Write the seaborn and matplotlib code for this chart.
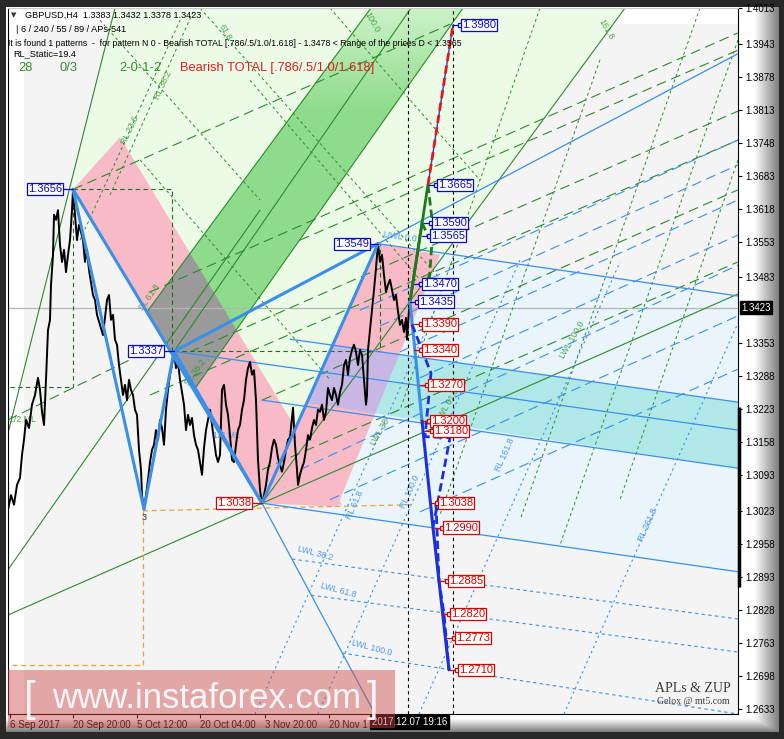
import numpy as np
import matplotlib
matplotlib.use("Agg")
import matplotlib.pyplot as plt
import seaborn as sns
from matplotlib.patches import Polygon, Rectangle

W, H = 784, 739

# ---------------- price series (H4 bars, bar 0 = left edge of window) ----------------
bars = [0, 3, 6, 9, 12, 14, 16, 18, 21, 24, 27, 30, 32, 34, 36, 38, 40, 42, 43, 45, 46, 48, 50,
        52, 54, 56, 58, 60, 62, 64, 65, 67, 69, 71, 73, 75, 77, 79, 81, 83, 85, 87, 89, 92, 95,
        97, 99, 101, 103, 105, 107, 109, 111, 113, 115, 117, 119, 121, 123, 125, 127, 129, 131,
        133, 134, 136, 138, 140, 142, 144, 146, 148, 150, 152, 154, 156, 158, 160, 162, 164, 166,
        168, 170, 172, 174, 176, 178, 180, 182, 184, 186, 188, 190, 192, 194, 196, 198, 200, 202,
        204, 206, 208, 210, 212, 214, 216, 218, 220, 222, 224, 226, 228, 230, 232, 234, 236, 238,
        240, 242, 244, 246, 248, 249, 250, 252, 254, 256, 258, 260, 262, 264, 266, 268, 270, 272,
        274, 276, 278, 280, 282, 284, 285, 287, 289, 290, 292, 294, 296, 298, 300, 302, 304, 306,
        308, 310, 312, 314, 316, 318, 320, 322, 324, 326, 328, 330, 332, 334, 336, 338, 340, 342,
        344, 346, 348, 350, 352, 354, 356, 358, 359, 360, 362, 364, 366, 368, 370, 372, 374, 376,
        378, 380, 382, 384, 386, 388, 390, 392, 394, 396, 398, 399, 400, 401, 402]
close = [1.3025, 1.3054, 1.3035, 1.3074, 1.3088, 1.3133, 1.3163, 1.3202, 1.3186, 1.3232, 1.3251,
         1.3285, 1.3261, 1.3218, 1.3192, 1.3281, 1.3379, 1.3399, 1.3468, 1.3527, 1.3606, 1.3596,
         1.3615, 1.3547, 1.3513, 1.3537, 1.3493, 1.3527, 1.3556, 1.3615, 1.3656, 1.3606, 1.3556,
         1.3586, 1.3572, 1.3556, 1.3513, 1.3537, 1.3497, 1.3472, 1.3448, 1.3438, 1.3409, 1.3389,
         1.3369, 1.3403, 1.3438, 1.3448, 1.3399, 1.3409, 1.3360, 1.3350, 1.3310, 1.3281, 1.3251,
         1.3271, 1.3241, 1.3281, 1.3261, 1.3251, 1.3222, 1.3212, 1.3143, 1.3104, 1.3054, 1.3026,
         1.3054, 1.3084, 1.3119, 1.3143, 1.3153, 1.3182, 1.3163, 1.3202, 1.3186, 1.3153, 1.3222,
         1.3261, 1.3291, 1.3310, 1.3337, 1.3304, 1.3316, 1.3281, 1.3257, 1.3232, 1.3182, 1.3212,
         1.3192, 1.3206, 1.3172, 1.3153, 1.3143, 1.3119, 1.3094, 1.3147, 1.3182, 1.3202, 1.3222,
         1.3192, 1.3163, 1.3133, 1.3119, 1.3133, 1.3261, 1.3271, 1.3232, 1.3212, 1.3172, 1.3123,
         1.3119, 1.3153, 1.3182, 1.3192, 1.3222, 1.3241, 1.3281, 1.3304, 1.3316, 1.3291, 1.3300,
         1.3241, 1.3182, 1.3123, 1.3064, 1.3038, 1.3054, 1.3074, 1.3104, 1.3119, 1.3147, 1.3163,
         1.3153, 1.3127, 1.3113, 1.3100, 1.3119, 1.3143, 1.3163, 1.3168, 1.3206, 1.3226, 1.3153,
         1.3104, 1.3074, 1.3094, 1.3108, 1.3119, 1.3143, 1.3172, 1.3163, 1.3186, 1.3202, 1.3192,
         1.3222, 1.3218, 1.3232, 1.3202, 1.3218, 1.3265, 1.3251, 1.3241, 1.3265, 1.3251, 1.3232,
         1.3257, 1.3271, 1.3310, 1.3320, 1.3291, 1.3324, 1.3340, 1.3350, 1.3336, 1.3310, 1.3340,
         1.3330, 1.3281, 1.3232, 1.3251, 1.3340, 1.3379, 1.3419, 1.3458, 1.3501, 1.3549, 1.3513,
         1.3527, 1.3487, 1.3454, 1.3468, 1.3478, 1.3458, 1.3438, 1.3448, 1.3415, 1.3389, 1.3399,
         1.3375, 1.3403, 1.3360, 1.3389, 1.3419, 1.3423]
last_price = 1.3423

# axis
price_ticks = [1.4013, 1.3943, 1.3878, 1.3813, 1.3748, 1.3683, 1.3618, 1.3553, 1.3483, 1.3353,
               1.3288, 1.3223, 1.3158, 1.3093, 1.3023, 1.2958, 1.2893, 1.2828, 1.2763, 1.2698, 1.2633]
date_bars = [2, 65, 129, 192, 257, 321]
date_labels = ["6 Sep 2017", "20 Sep 20:00", "5 Oct 12:00", "20 Oct 04:00", "3 Nov 20:00", "20 Nov 1"]

# ---------------- ZUP pattern: pivots and targets ----------------
zigzag_bars = [65, 136, 166, 254, 370]
zigzag_prices = [1.3656, 1.3026, 1.3337, 1.3038, 1.3549]
pivot_labels = [(65, 1.3656, "b", 55), (166, 1.3337, "b", 156), (254, 1.3038, "r", 244), (370, 1.3549, "b", 362)]

target_prices = [1.3980, 1.3665, 1.3590, 1.3565, 1.3470, 1.3435, 1.3390, 1.3340, 1.3270,
                 1.3200, 1.3180, 1.3038, 1.2990, 1.2885, 1.2820, 1.2773, 1.2710]
target_bars = [453, 429, 424, 422, 414, 410, 414, 414, 420, 422, 425, 430, 435, 440, 442, 447, 450]
target_kind = ["b"] * 6 + ["r"] * 11

proj_green = [[(402, 1.3435), (420, 1.3665)], [(402, 1.3435), (414, 1.3590)]]
proj_green_dash = [[(420, 1.3665), (425, 1.3580), (421, 1.3470)], [(414, 1.3590), (420, 1.3565)]]
proj_red = [(420, 1.3665), (445, 1.3980)]
proj_blue = [(402, 1.3435), (414, 1.3200), (425, 1.2990), (441, 1.2710)]
proj_blue_dash = [[(404, 1.3390), (423, 1.3294), (417, 1.3169), (442, 1.3167), (425, 1.2991)],
                  [(428, 1.3038), (431, 1.2885), (436, 1.2820), (441, 1.2710)]]
time_marks = [400, 445]

# ---------------- Andrews pitchfork areas ----------------
light_green = [(107, 1.4013), (617, 1.4013), (254, 1.3038), (65, 1.3656)]
light_blue = [(370, 1.3549), (730, 1.3446), (730, 1.2903), (254, 1.3038)]
pink1 = [(65, 1.3656), (112, 1.3759), (334, 1.3035), (254, 1.3038)]
pink2 = [(254, 1.3038), (370, 1.3549), (432, 1.3527), (329, 1.3031)]
green_band = [(139, 1.3415), (363, 1.4013), (455, 1.4013), (186, 1.3261)]
cyan_band = [(325, 1.3350), (730, 1.3237), (730, 1.3107), (299, 1.3235)]

green_solid = [[(0, 1.2818), (730, 1.3450)], [(254, 1.3038), (617, 1.4013)],
               [(0, 1.3176), (107, 1.4013)], [(139, 1.3415), (363, 1.4013)],
               [(186, 1.3261), (455, 1.4013)], [(166, 1.3337), (403, 1.4013)],
               [(0, 1.2907), (252, 1.3615)]]
green_long_dash = [[(65, 1.3656), (442, 1.3981)], [(142, 1.3454), (730, 1.3964)],
                   [(182, 1.3336), (730, 1.3810)], [(142, 1.3251), (730, 1.3753)],
                   [(292, 1.3556), (730, 1.3930)], [(254, 1.3241), (730, 1.3655)],
                   [(254, 1.3104), (730, 1.3513)], [(0, 1.3202), (142, 1.3340)]]
green_short_dash = [[(692, 1.4013), (512, 1.3005)], [(730, 1.3950), (552, 1.2956)],
                    [(592, 1.3911), (432, 1.3015)], [(730, 1.3714), (612, 1.3045)],
                    [(532, 1.4013), (392, 1.3222)], [(72, 1.3556), (172, 1.3989)],
                    [(102, 1.3645), (187, 1.4013)], [(192, 1.4013), (442, 1.3458)],
                    [(132, 1.3714), (322, 1.3281)], [(242, 1.3871), (412, 1.3478)],
                    [(322, 1.4013), (472, 1.3674)], [(92, 1.3989), (252, 1.3635)]]
green_frame = [[(65, 1.3656), (164, 1.3656), (164, 1.3337)],
               [(65, 1.3656), (65, 1.3267), (0, 1.3267)],
               [(166, 1.3337), (372, 1.3337), (372, 1.3549)]]
orange_frame = [[(135, 1.3023), (402, 1.3035)], [(135, 1.3023), (135, 1.2720), (0, 1.2720)]]

blue_solid = [[(370, 1.3549), (730, 1.3923)], [(166, 1.3337), (730, 1.3182)],
              [(282, 1.3361), (730, 1.3237)], [(254, 1.3241), (730, 1.3107)],
              [(370, 1.3549), (730, 1.3446)], [(254, 1.3038), (730, 1.2903)],
              [(254, 1.3038), (367, 1.2623)]]
blue_long_dash = [[(352, 1.3418), (730, 1.3753)], [(372, 1.3387), (730, 1.3704)],
                  [(392, 1.3336), (730, 1.3635)], [(412, 1.3285), (730, 1.3566)],
                  [(292, 1.3104), (730, 1.3507)], [(322, 1.3045), (730, 1.3407)],
                  [(412, 1.3021), (730, 1.3302)]]
blue_lwl = [[(284, 1.2928), (730, 1.2810)], [(303, 1.2857), (730, 1.2745)],
            [(334, 1.2743), (730, 1.2623)]]
blue_rl = [[(247, 1.2623), (432, 1.3442)], [(310, 1.2623), (512, 1.3517)],
           [(411, 1.2623), (612, 1.3513)], [(556, 1.2623), (730, 1.3393)]]

# level captions: (bar, price, text, color, rotation)
captions = [(122, 1.3773, "RL 23.6", "g", 65), (155, 1.3861, "RL 38.2", "g", 65),
            (217, 1.3966, "61.8", "g", -60), (364, 1.3985, "100.0", "g", -60),
            (598, 1.3970, "161.8", "g", -60), (142, 1.3444, "SL 61.8", "g", 55),
            (187, 1.3296, "SL 38.2", "g", 55), (14, 1.3202, "1/2 ML", "g", 0),
            (218, 1.3172, "1/2 ML", "b", 0), (392, 1.3562, "UWL 0.0", "b", -8),
            (307, 1.2940, "LWL 38.2", "b", -15), (330, 1.2867, "LWL 61.8", "b", -15),
            (364, 1.2753, "LWL 100.0", "b", -15), (402, 1.3060, "RL 100.0", "b", 66),
            (497, 1.3133, "RL 161.8", "b", 66), (640, 1.2995, "RL 261.8", "b", 66),
            (347, 1.3035, "RL 61.8", "b", 66), (440, 1.3232, "LWL 61.8", "g", 60),
            (564, 1.3359, "LWL 100.0", "g", 60), (372, 1.3178, "LWL 38", "g", 60)]

GREEN = "#2b8a2b"
BLUE = "#3a8fe8"
ROYAL = "#1a30e0"
LBL = {"b": "#0a0ac8", "r": "#d80000", "g": "#3c963c"}

# ---------------- figure ----------------
sns.set_style("white")
plt.rcParams["font.family"] = ["Liberation Sans", "DejaVu Sans"]

fig = plt.figure(figsize=(W / 100, H / 100), dpi=100)
fig.patch.set_facecolor("#262626")

# bevelled frame around the chart
img = np.full((H, W, 3), 0.16)
xs = np.arange(W)
ys = np.arange(H)
sx = np.clip((xs - 754) / 24.0, 0, 1)
sy = np.clip((ys - 718) / 13.0, 0, 1)
level = 1 - 0.5 * np.maximum(sx[None, :], sy[:, None])
inside = (xs[None, :] >= 6) & (xs[None, :] < 779) & (ys[:, None] >= 7) & (ys[:, None] < 732)
img[inside] = level[inside][:, None]
bg = fig.add_axes([0, 0, 1, 1], zorder=-10)
bg.imshow(img, aspect="auto", interpolation="nearest")
bg.axis("off")

ax = fig.add_axes([8 / W, 1 - 714 / H, 730 / W, 706 / H])
ax.set_facecolor("#f4f4f4")

ax.axvspan(0, 16, color="white", zorder=0.2, lw=0)
ax.axhspan(1.3981, 1.4013, color="white", zorder=0.2, lw=0)


def poly(pts, fc, z, alpha=1.0):
    p = Polygon(pts, closed=True, fc=fc, ec="none", zorder=z, alpha=alpha)
    ax.add_patch(p)
    return p


poly(light_green, "#ecfbe6", 0.5)
poly(light_blue, "#eaf4fb", 0.6)
p1 = poly(pink1, "#f8bac6", 0.7)
band = poly(green_band, "#8fdc8c", 0.8)
# band fades out towards the top of the window
t = np.clip((1.4013 - np.linspace(1.4013, 1.3261, 200)) / 0.02, 0, 1)[:, None, None]
fade = np.array([0.80, 0.95, 0.78]) * (1 - t) + np.array([0.56, 0.86, 0.55]) * t
im = ax.imshow(fade, extent=[139, 455, 1.3261, 1.4013], aspect="auto", zorder=0.85,
               interpolation="bilinear")
im.set_clip_path(band)
gray = poly(green_band, "#9a9a9a", 0.9)
gray.set_clip_path(p1)
p2 = poly(pink2, "#f8bac6", 1.0)
poly(cyan_band, "#b0e8e8", 1.1)
lav = poly(cyan_band, "#c8b6e4", 1.2)
lav.set_clip_path(p2)


def draw(groups, color, lw, ls="-", z=2):
    for seg in groups:
        xx, yy = zip(*seg)
        ax.plot(xx, yy, color=color, lw=lw, ls=ls, zorder=z)


draw(green_solid, GREEN, 0.8)
draw(green_long_dash, GREEN, 0.8, (0, (9, 5)))
draw(green_short_dash, GREEN, 0.7, (0, (3, 3)))
draw(green_frame, "#1f6e1f", 0.8, (0, (4, 3)))
draw(orange_frame, "#f0a030", 0.9, (0, (4, 3)))
draw(blue_solid, BLUE, 0.9)
draw(blue_long_dash, BLUE, 0.8, (0, (9, 5)))
draw(blue_lwl, BLUE, 0.8, (0, (3, 3)))
draw(blue_rl, BLUE, 0.8, (0, (2, 3)))

ax.axhline(last_price, color="#b4b4b4", lw=0.9, zorder=1.5)
for tm in time_marks:
    ax.axvline(tm, color="black", lw=0.8, ls=(0, (3, 3)), zorder=2.5)

for bx, py, txt, c, rot in captions:
    ax.text(bx, py, txt, color=LBL[c] if c != "b" else BLUE, fontsize=6.3, rotation=rot,
            ha="center", va="center", zorder=2.2, alpha=0.9)

# price
sns.lineplot(x=bars, y=close, ax=ax, color="black", lw=1.4, zorder=3, sort=False)

# zigzag and legs
sns.lineplot(x=zigzag_bars, y=zigzag_prices, ax=ax, color=BLUE, lw=2.2, zorder=4, sort=False)
ax.plot([zigzag_bars[0], zigzag_bars[3]], [zigzag_prices[0], zigzag_prices[3]], color=BLUE, lw=2.2, zorder=4)
ax.plot([zigzag_bars[2], zigzag_bars[4]], [zigzag_prices[2], zigzag_prices[4]], color=BLUE, lw=2.2, zorder=4)

# projections
draw(proj_green, "#1d7a1d", 2.0, z=4)
draw(proj_green_dash, "#1d7a1d", 2.0, (0, (3, 1.5)), z=4)
xx, yy = zip(*proj_red)
ax.plot(xx, yy, color="#2040e0", lw=1.0, zorder=4)
ax.plot(xx, yy, color="#e8141e", lw=2.0, ls=(0, (3, 1.5)), zorder=4.1)
xx, yy = zip(*proj_blue)
ax.plot(xx[:2], yy[:2], color=BLUE, lw=2.2, zorder=4)
ax.plot(xx[1:], yy[1:], color=ROYAL, lw=2.2, zorder=4)
draw(proj_blue_dash, ROYAL, 2.0, (0, (3, 1.5)), z=4.1)

# target labels
for p, b, k in zip(target_prices, target_bars, target_kind):
    c = LBL[k]
    ax.plot([b - 8, b - 1], [p, p], color=c, lw=0.9, zorder=5)
    ax.plot(b - 1, p, marker="s", ms=3, mfc="white", mec=c, mew=0.9, zorder=5)
    ax.text(b + 1, p, f"{p:.4f}", color=c, fontsize=8, ha="left", va="center", zorder=6,
            bbox=dict(boxstyle="square,pad=0.1", fc="white", ec=c, lw=0.9))

for b, p, k, lb in pivot_labels:
    c = LBL[k]
    ax.plot([lb, b], [p, p], color=c, lw=0.9, zorder=5)
    ax.text(lb - 1, p, f"{p:.4f}", color=c, fontsize=8, ha="right", va="center", zorder=6,
            bbox=dict(boxstyle="square,pad=0.1", fc="white", ec=c, lw=0.9))
ax.text(136, 1.3009, "3", fontsize=6.5, ha="center", va="center", zorder=6)

# axes styling
ax.set_xlim(0, 730)
ax.set_ylim(1.2623, 1.4013)
for s in ["left", "bottom", "right"]:
    ax.spines[s].set_color("black")
    ax.spines[s].set_linewidth(0.8)
ax.spines["top"].set_color("#c8c8c8")
ax.yaxis.tick_right()
ax.set_yticks(price_ticks)
ax.set_yticklabels([f"{v:.4f}" for v in price_ticks], fontsize=7)
ax.set_xticks(date_bars)
ax.set_xticklabels(date_labels, fontsize=7)
for lbl in ax.get_xticklabels():
    lbl.set_ha("left")
ax.tick_params(axis="y", length=3, width=0.8, pad=2, colors="black", right=True, left=False)
ax.tick_params(axis="x", length=3, width=0.8, pad=1.5, colors="black", bottom=True)
ax.set_xlabel("")
ax.set_ylabel("")

ax.text(733, last_price, f"{last_price:.4f}", color="white", fontsize=7, ha="left", va="center",
        clip_on=False, zorder=10, bbox=dict(boxstyle="square,pad=0.15", fc="black", ec="black"))
ax.plot([731, 731], [1.3228, 1.2873], color="black", lw=2.5, clip_on=False, zorder=10,
        solid_capstyle="butt")

fig.text(372 / W, 1 - 722 / H, "2017.12.07 19:16", color="white", fontsize=7, ha="left", va="center",
         zorder=20, bbox=dict(boxstyle="square,pad=0.2", fc="black", ec="black"))


# header
def ftext(x, y, s, **kw):
    fig.text(x / W, 1 - y / H, s, va="center", ha="left", zorder=20, **kw)


ftext(11, 15, "▼", fontsize=5, color="#333333", family="DejaVu Sans")
ftext(25, 15, "GBPUSD,H4  1.3383 1.3432 1.3378 1.3423", fontsize=6.6, color="black")
ftext(16, 29, "| 6 / 240 / 55 / 89 / APs-541", fontsize=6.6, color="black")
ftext(8, 43, "It is found 1 patterns  -  for pattern N 0 - Bearish TOTAL [.786/.5/1.0/1.618] - 1.3478 < Range of the prices D < 1.3565",
      fontsize=6.3, color="black")
ftext(13, 54, "RL_Static=19.4", fontsize=6.6, color="black")
ftext(18, 68, "28", fontsize=9.3, color="#2e8c2e")
ftext(60, 68, "0/3", fontsize=9.3, color="#2e8c2e")
ftext(119, 68, "2-0-1-2", fontsize=9.3, color="#2e8c2e")
ftext(180, 68, "Bearish TOTAL [.786/.5/1.0/1.618]", fontsize=9.3, color="#dc1e1e")

fig.text(693 / W, 1 - 688 / H, "APLs & ZUP", fontsize=10, color="#3a3a3a", ha="center", va="center",
         family="Liberation Serif", zorder=20)
fig.text(693 / W, 1 - 702 / H, "Gelox @ mt5.com", fontsize=7, color="#3a3a3a", ha="center", va="center",
         family="Liberation Serif", zorder=20)

# watermark
fig.add_artist(Rectangle((8 / W, 1 - 728 / H), 387 / W, 58 / H, transform=fig.transFigure,
                         fc="#d04848", ec="none", alpha=0.45, zorder=50))
fig.text(207 / W, 1 - 698 / H, "www.instaforex.com", fontsize=25, color="white", alpha=0.9,
         ha="center", va="center", zorder=51)
fig.text(30 / W, 1 - 700 / H, "[", fontsize=30, color="white", alpha=0.9, ha="center", va="center",
         fontweight="light", zorder=51)
fig.text(372 / W, 1 - 700 / H, "]", fontsize=30, color="white", alpha=0.9, ha="center", va="center",
         fontweight="light", zorder=51)

fig.savefig("out.png", dpi=100, facecolor=fig.get_facecolor())
